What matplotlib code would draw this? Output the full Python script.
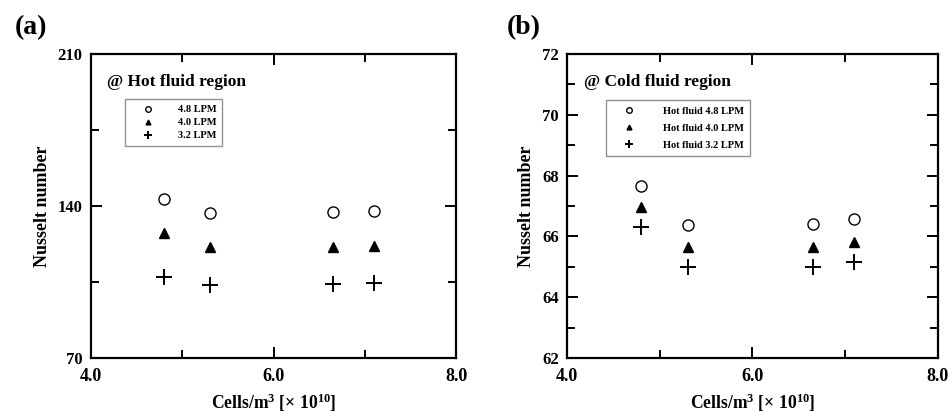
import matplotlib
matplotlib.use("Agg")
import matplotlib.pyplot as plt
from matplotlib.ticker import MultipleLocator

plt.rcParams['font.family'] = ['Liberation Serif', 'DejaVu Serif']
plt.rcParams['font.weight'] = 'bold'
plt.rcParams['mathtext.fontset'] = 'custom'
plt.rcParams['mathtext.rm'] = 'Liberation Serif:bold'
plt.rcParams['mathtext.it'] = 'Liberation Serif:bold'
plt.rcParams['mathtext.bf'] = 'Liberation Serif:bold'

# cell density [x 1e10 cells/m3]
cells = [4.8, 5.3, 6.65, 7.1]

# (a) hot fluid region
hot_48 = [143.2, 136.9, 137.2, 137.5]
hot_40 = [127.4, 121.0, 121.3, 121.6]
hot_32 = [107.5, 103.6, 103.9, 104.5]

# (b) cold fluid region
cold_48 = [67.67, 66.38, 66.40, 66.56]
cold_40 = [66.96, 65.64, 65.64, 65.80]
cold_32 = [66.30, 64.98, 64.98, 65.15]

fig = plt.figure(figsize=(9.53, 4.19), dpi=100)
ax1 = fig.add_axes([0.0955, 0.1456, 0.383, 0.7255])
ax2 = fig.add_axes([0.595, 0.1456, 0.389, 0.7255])


def draw(ax, y48, y40, y32, labels, ylim, ymajor, yminor, title, leg_kw):
    ax.plot(cells, y48, 'o', ms=8, mfc='none', mec='black', mew=1.0, label=labels[0])
    ax.plot(cells, y40, '^', ms=7, color='black', label=labels[1])
    ax.plot(cells, y32, '+', ms=11, color='black', mew=1.4, label=labels[2])
    ax.set_xlim(4, 8)
    ax.set_ylim(*ylim)
    ax.xaxis.set_major_locator(MultipleLocator(2))
    ax.xaxis.set_minor_locator(MultipleLocator(1))
    ax.yaxis.set_major_locator(MultipleLocator(ymajor))
    ax.yaxis.set_minor_locator(MultipleLocator(yminor))
    ax.xaxis.set_major_formatter(plt.FormatStrFormatter('%.1f'))
    ax.tick_params(which='both', direction='in', top=True, right=True, width=1.4)
    ax.tick_params(which='major', length=8)
    ax.tick_params(axis='x', which='major', pad=7, labelsize=13)
    ax.tick_params(axis='y', which='major', pad=6, labelsize=12)
    ax.tick_params(which='minor', length=6)
    for s in ax.spines.values():
        s.set_linewidth(1.6)
    ax.set_ylabel('Nusselt number', fontsize=13, fontweight='bold', labelpad=5)
    ax.set_xlabel('Cells/m$^{3}$ [$\\times$ 10$^{10}$]', fontsize=12.7, fontweight='bold', labelpad=5)
    ax.text(0.045, 0.895, title, transform=ax.transAxes, fontsize=12.5, fontweight='bold')
    leg = ax.legend(loc='upper left', markerscale=0.5, frameon=True, fancybox=False,
                    borderpad=0.6, **leg_kw)
    leg.get_frame().set_edgecolor('#777777')
    leg.get_frame().set_linewidth(1.0)


draw(ax1, hot_48, hot_40, hot_32, ['4.8 LPM', '4.0 LPM', '3.2 LPM'],
     (70, 210), 70, 35, '@ Hot fluid region',
     dict(bbox_to_anchor=(0.08, 0.87), fontsize=7.5, handlelength=3.2,
          handletextpad=1.2, labelspacing=0.35))
draw(ax2, cold_48, cold_40, cold_32,
     ['Hot fluid 4.8 LPM', 'Hot fluid 4.0 LPM', 'Hot fluid 3.2 LPM'],
     (62, 72), 2, 1, '@ Cold fluid region',
     dict(bbox_to_anchor=(0.092, 0.865), fontsize=7.5, handlelength=3.2,
          handletextpad=1.6, labelspacing=0.75))

fig.text(0.016, 0.918, '(a)', fontsize=20, fontweight='bold')
fig.text(0.532, 0.918, '(b)', fontsize=20, fontweight='bold')

fig.savefig('out.png', dpi=100)
